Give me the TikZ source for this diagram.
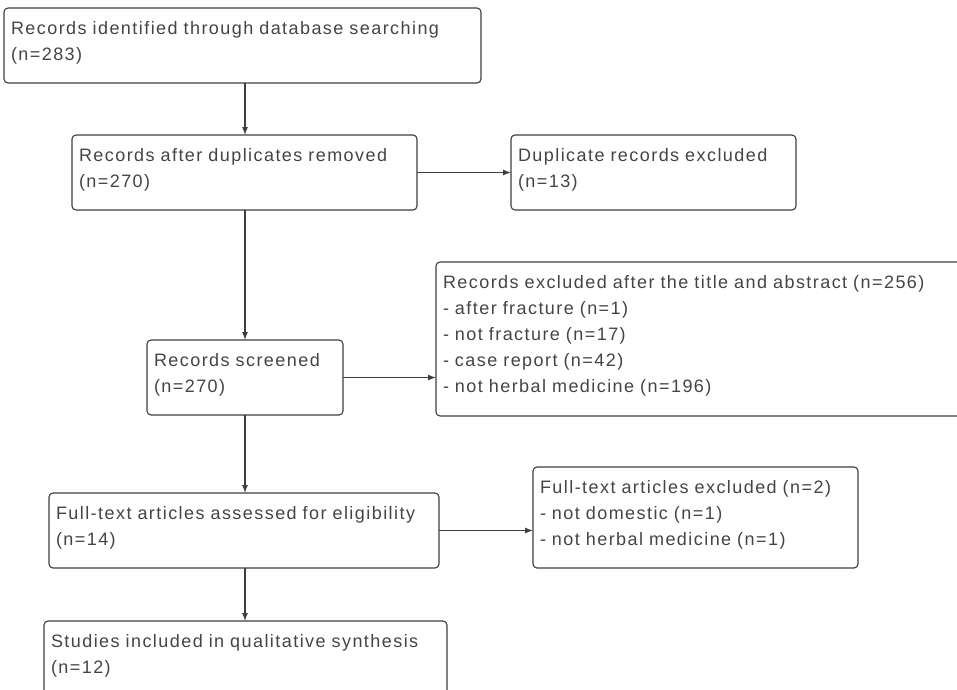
\documentclass[tikz,border=0pt]{standalone}
\usepackage{fontspec}
\usetikzlibrary{arrows.meta}
\newfontfamily\flowfont{Liberation Sans}[LetterSpace=8]
\definecolor{boxline}{RGB}{62,62,62}
\definecolor{boxtext}{RGB}{68,68,68}
\begin{document}
\begin{tikzpicture}[x=1pt,y=-1pt,
	box/.style={draw=boxline, line width=1.1pt, rounded corners=4pt, rectangle,
		anchor=north west, align=left, inner xsep=7pt, inner ysep=8pt, outer sep=0pt,
		text height=18pt, text=boxtext, font=\flowfont\fontsize{18}{26}\selectfont},
	flow/.style={draw=boxline, line width=1.1pt, -{Latex[length=8pt,width=6pt]}}]
	\useasboundingbox (0,0) rectangle (957,689);
	\clip (0,0) rectangle (957,689);
	\coordinate (spine) at (245,0);
	% Main column
	\node[box, text width=463pt, text depth=41pt] (ident) at (4,8) {Records identified through database searching\\(n=283)};
	\node[box, text width=331pt, text depth=41pt] (dedup) at (72,135) {Records after duplicates removed\\(n=270)};
	\node[box, text width=182pt, text depth=41pt] (screen) at (147,340) {Records screened\\(n=270)};
	\node[box, text width=376pt, text depth=41pt] (fulltext) at (49,493) {Full-text articles assessed for eligibility\\(n=14)};
	\node[box, text width=389pt, text depth=41pt] (incl) at (44,621) {Studies included in qualitative synthesis\\(n=12)};
	% Exclusions on the right
	\node[box, text width=271pt, text depth=41pt] (dupex) at (511,135) {Duplicate records excluded\\(n=13)};
	\node[box, text width=526pt, text depth=120pt] (absex) at (436,262) {Records excluded after the title and abstract (n=256)\\- after fracture (n=1)\\- not fracture (n=17)\\- case report (n=42)\\- not herbal medicine (n=196)};
	\node[box, text width=311pt, text depth=67pt] (ftex) at (533,467) {Full-text articles excluded (n=2)\\- not domestic (n=1)\\- not herbal medicine (n=1)};
	% Arrows
	\draw[flow] (ident.south -| spine) -- (dedup.north -| spine);
	\draw[flow] (dedup.south -| spine) -- (screen.north -| spine);
	\draw[flow] (screen.south -| spine) -- (fulltext.north -| spine);
	\draw[flow] (fulltext.south -| spine) -- (incl.north -| spine);
	\draw[flow] (dedup.east) -- (dupex.west);
	\draw[flow] (screen.east) -- (absex.west |- screen.east);
	\draw[flow] (fulltext.east) -- (ftex.west |- fulltext.east);
\end{tikzpicture}
\end{document}
